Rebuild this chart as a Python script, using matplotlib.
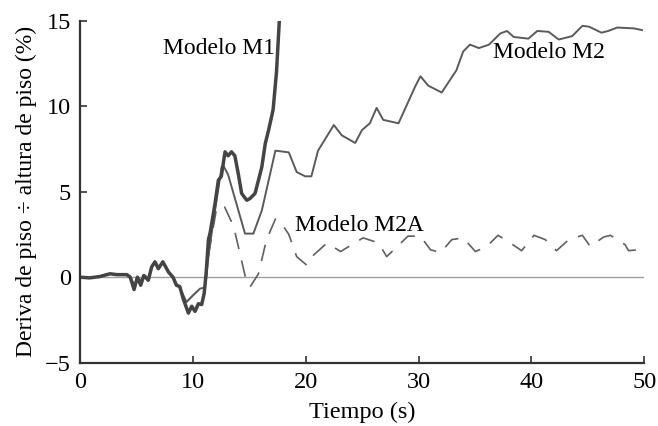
import numpy as np
import matplotlib.pyplot as plt

plt.rcParams['font.family'] = ['Liberation Serif', 'DejaVu Serif']

# Modelo M1 (thick line, runs off the top)
t_m1 = [0, 0.86, 1.76, 2.66, 3.26, 4.15, 4.45, 4.79, 5.08, 5.38, 5.65, 6.05, 6.35, 6.64, 6.94,
        7.34, 7.84, 8.24, 8.54, 8.84, 9.14, 9.6, 9.9, 10.19, 10.49, 10.78, 11.0, 11.17,
        11.38, 11.53, 11.96, 12.26, 12.52, 12.85, 13.12, 13.42, 13.72, 14.02, 14.32, 14.77,
        15.06, 15.51, 15.81, 16.11, 16.41, 16.71, 17.11, 17.41, 17.66]
v_m1 = [0, -0.04, 0.04, 0.2, 0.15, 0.15, 0, -0.72, 0, -0.47, 0.1, -0.18, 0.6, 0.9, 0.5,
        0.9, 0.3, 0, -0.47, -0.55, -1.25, -2.1, -1.7, -2.0, -1.55, -1.6, -0.95, 0.2,
        2.2, 2.6, 4.3, 5.67, 5.9, 7.33, 7.1, 7.33, 7.1, 6.06, 4.9, 4.5,
        4.6, 4.9, 5.67, 6.45, 7.8, 8.6, 9.8, 12.0, 15.0]

# Modelo M2 (thin line)
t_m2 = [0, 0.86, 1.76, 2.66, 3.26, 4.15, 4.45, 4.85, 5.15, 5.45, 5.75, 6.05, 6.35, 6.64, 6.94,
        7.34, 7.84, 8.24, 8.54, 8.84, 9.43, 10.03, 10.63, 11.08, 11.43, 11.96, 12.55, 12.72,
        13.12, 14.62, 15.36, 16.11, 17.31, 18.5, 19.2, 19.95, 20.5, 21.09, 22.49, 23.19,
        24.38, 24.98, 25.68, 26.28, 26.87, 28.22, 28.77, 29.66, 30.16, 30.86, 32.05, 33.35,
        33.95, 34.55, 35.34, 36.24, 37.23, 37.83, 38.43, 39.73, 40.52, 41.52, 42.42, 43.61,
        44.51, 45.11, 46.2, 46.8, 47.6, 49.09, 49.79]
v_m2 = [0, -0.04, 0.04, 0.2, 0.15, 0.15, 0, -0.5, 0, -0.3, 0.1, -0.1, 0.6, 0.9, 0.5,
        0.9, 0.3, 0, -0.4, -0.6, -1.45, -1.05, -0.67, -0.6, 1.5, 3.9, 6.45, 6.5,
        6.0, 2.55, 2.55, 3.9, 7.4, 7.3, 6.15, 5.9, 5.9, 7.4, 8.9, 8.3,
        7.85, 8.6, 9.0, 9.9, 9.2, 9.0, 9.8, 11.1, 11.75, 11.2, 10.8, 12.1,
        13.2, 13.6, 13.4, 13.6, 14.25, 14.4, 14.05, 13.95, 14.4, 14.35, 13.9, 14.1,
        14.7, 14.65, 14.3, 14.4, 14.6, 14.55, 14.45]

# Modelo M2A (dashed line)
t_m2a = [0, 0.86, 1.76, 2.66, 3.26, 4.15, 4.45, 4.85, 5.15, 5.45, 5.75, 6.05, 6.35, 6.64, 6.94,
         7.34, 7.84, 8.24, 8.54, 8.84, 9.43, 10.03, 10.63, 11.08, 11.43, 12.12, 12.82, 13.62,
         14.62, 15.07, 15.81, 16.51, 17.31, 17.9, 18.5, 19.2, 20.1, 20.7, 21.89, 23.09,
         25.08, 26.47, 27.17, 29.06, 30.16, 31.06, 31.96, 32.95, 33.95, 35.04, 36.04, 37.04,
         38.13, 39.13, 40.23, 41.22, 42.22, 43.31, 44.51, 45.21, 46.4, 47.0, 48.3, 48.6, 49.4]
v_m2a = [0, -0.04, 0.04, 0.2, 0.15, 0.15, 0, -0.5, 0, -0.3, 0.1, -0.1, 0.6, 0.9, 0.5,
         0.9, 0.3, 0, -0.4, -0.6, -1.45, -1.05, -0.67, -0.6, 1.5, 4.1, 4.1, 2.95,
         0.1, -0.57, 0.2, 2.16, 3.4, 3.1, 2.5, 1.2, 0.7, 1.3, 2.0, 1.5,
         2.3, 2.0, 1.2, 2.4, 2.4, 1.6, 1.45, 2.2, 2.3, 1.5, 1.8, 2.45,
         2.0, 1.55, 2.45, 2.2, 1.55, 2.2, 2.45, 1.8, 2.35, 2.45, 1.9, 1.55, 1.6]

fig = plt.figure(figsize=(6.58, 4.26), dpi=100)
ax = fig.add_axes([0.1216, 0.1486, 0.8576, 0.8028])

ax.axhline(0, color='#a0a0a0', lw=1.0, zorder=1)
ax.plot(t_m2a, v_m2a, color='#606060', lw=1.2, dashes=(10, 7))
ax.plot(t_m2, v_m2, color='#5a5a5a', lw=1.4)
ax.plot(t_m1, v_m1, color='#444444', lw=2.5)

ax.text(7.36, 13.4, 'Modelo M1', fontsize=17, va='center')
ax.text(36.6, 13.15, 'Modelo M2', fontsize=17, va='center')
ax.text(19.06, 3.0, 'Modelo M2A', fontsize=17, va='center')

ax.set_xlim(0, 50)
ax.set_ylim(-5, 15)
ax.set_xticks([0, 10, 20, 30, 40, 50])
ax.set_yticks([-5, 0, 5, 10, 15])
ax.set_yticklabels(['\u22125', '0', '5', '10', '15'])
ax.spines['top'].set_visible(False)
ax.spines['right'].set_visible(False)
for s in ['left', 'bottom']:
    ax.spines[s].set_color('#333333')
    ax.spines[s].set_linewidth(1.6)
ax.tick_params(direction='in', length=5, width=1.2, color='#333333',
               labelsize=17.5)
ax.tick_params(axis='x', pad=7)
ax.tick_params(axis='y', pad=6.5)
ax.set_xlabel('Tiempo (s)', fontsize=17.5, labelpad=6)
ax.set_ylabel('Deriva de piso \u00f7 altura de piso (%)', fontsize=17, labelpad=6)

fig.savefig('out.png', dpi=100)
